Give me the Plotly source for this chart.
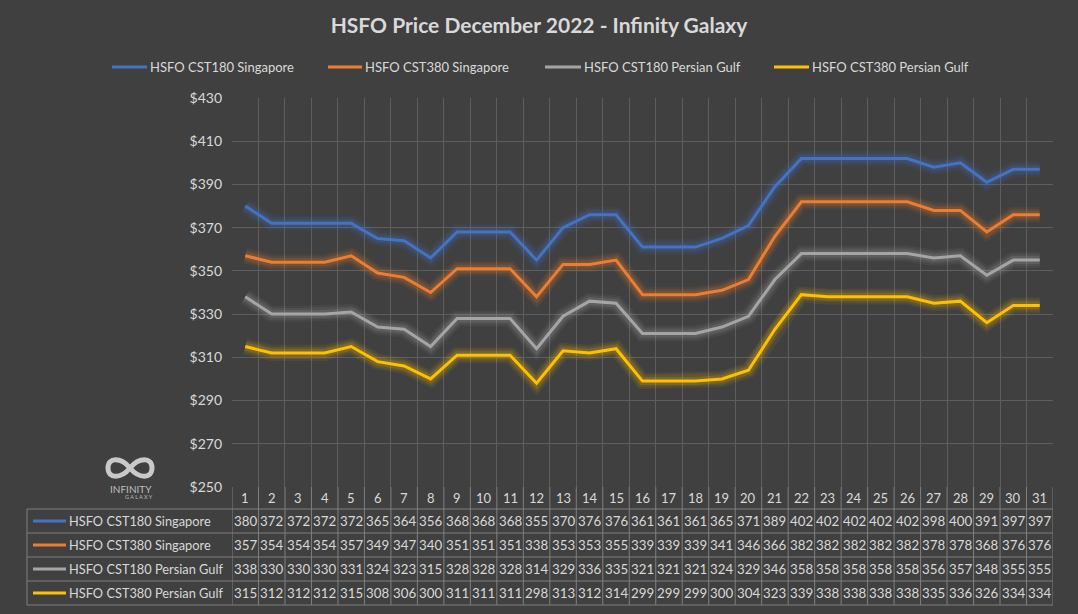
import plotly.graph_objects as go

# ---------------- data ----------------
days = list(range(1, 32))
series_names = ["HSFO CST180 Singapore", "HSFO CST380 Singapore",
                "HSFO CST180 Persian Gulf", "HSFO CST380 Persian Gulf"]
cst180_sg = [380, 372, 372, 372, 372, 365, 364, 356, 368, 368, 368, 355, 370, 376, 376, 361,
             361, 361, 365, 371, 389, 402, 402, 402, 402, 402, 398, 400, 391, 397, 397]
cst380_sg = [357, 354, 354, 354, 357, 349, 347, 340, 351, 351, 351, 338, 353, 353, 355, 339,
             339, 339, 341, 346, 366, 382, 382, 382, 382, 382, 378, 378, 368, 376, 376]
cst180_pg = [338, 330, 330, 330, 331, 324, 323, 315, 328, 328, 328, 314, 329, 336, 335, 321,
             321, 321, 324, 329, 346, 358, 358, 358, 358, 358, 356, 357, 348, 355, 355]
cst380_pg = [315, 312, 312, 312, 315, 308, 306, 300, 311, 311, 311, 298, 313, 312, 314, 299,
             299, 299, 300, 304, 323, 339, 338, 338, 338, 338, 335, 336, 326, 334, 334]
y_ticks = [250, 270, 290, 310, 330, 350, 370, 390, 410, 430]
y_tick_labels = ["$" + str(v) for v in y_ticks]

colors = ["#4472c4", "#ed7d31", "#a5a5a5", "#ffc000"]
glow = ["68,114,196", "237,125,49", "165,165,165", "255,192,0"]
all_series = [cst180_sg, cst380_sg, cst180_pg, cst380_pg]

# ---------------- geometry helpers (layout only) ----------------
W, H = 1078, 614
PL, PR, PT, PB = 232, 1053, 98, 487


def px(x):
    return (x - PL) / (PR - PL)


def py(y):
    return (PB - y) / (PB - PT)


BG = "#404040"
TXT = "#d9d9d9"
GRID = "#5e5e5e"
TLINE = "#7f7f7f"
FONT = "Lato"

fig = go.Figure()

# glow layers
for vals, g in zip(all_series, glow):
    for wdt, op in [(16, 0.07), (12, 0.10), (8, 0.16)]:
        fig.add_trace(go.Scatter(x=days, y=vals, mode="lines", showlegend=False,
                                 hoverinfo="skip",
                                 line=dict(color=f"rgba({g},{op})", width=wdt)))
# main lines
for name, vals, c in zip(series_names, all_series, colors):
    fig.add_trace(go.Scatter(x=days, y=vals, mode="lines", name=name, showlegend=False,
                             line=dict(color=c, width=3)))

shapes = []
annotations = []


def label(x, y, text, size, xanchor="center", xref="paper", color=TXT):
    annotations.append(dict(x=x, y=y, xref=xref, yref="paper", xanchor=xanchor,
                            yanchor="middle", text=text, showarrow=False,
                            font=dict(family=FONT, size=size, color=color)))


# legend (drawn manually to match placement)
legend_line_x = [(112, 147), (328, 362), (545, 581), (774, 809)]
legend_y = 67
for (x0, x1), name, c in zip(legend_line_x, series_names, colors):
    shapes.append(dict(type="line", xref="paper", yref="paper",
                       x0=px(x0), x1=px(x1), y0=py(legend_y), y1=py(legend_y),
                       line=dict(color=c, width=3)))
    label(px(x1 + 1), py(legend_y), name, 13, xanchor="left")

# table rows (header + 4 series)
row_bounds = [509, 533, 557, 581, 605]
header_center = 498
row_centers = [521, 545, 569, 593]

for yb in row_bounds:
    shapes.append(dict(type="line", xref="paper", yref="paper",
                       x0=px(27), x1=1, y0=py(yb), y1=py(yb),
                       line=dict(color=TLINE, width=1)))
shapes.append(dict(type="line", xref="paper", yref="paper",
                   x0=px(27), x1=px(27), y0=py(509), y1=py(605),
                   line=dict(color=TLINE, width=1)))
for d in [days[0] - 0.5] + [d + 0.5 for d in days]:
    shapes.append(dict(type="line", xref="x", yref="paper",
                       x0=d, x1=d, y0=py(487), y1=py(605),
                       line=dict(color=TLINE, width=1)))

for d in days:
    label(d, py(header_center), str(d), 13, xref="x")

for rc, name, vals, c in zip(row_centers, series_names, all_series, colors):
    shapes.append(dict(type="line", xref="paper", yref="paper",
                       x0=px(33), x1=px(66), y0=py(rc), y1=py(rc),
                       line=dict(color=c, width=3)))
    label(px(67), py(rc), name, 12.8, xanchor="left")
    for d, v in zip(days, vals):
        label(d, py(rc), str(v), 13.3, xref="x")

# logo (Infinity Galaxy)
cx, cy, rx, lx, hh = 130, 468, 152, 108, 11
pts = lambda x, y: f"{px(x)},{py(y)}"
path = (f"M {pts(cx, cy)} C {pts(cx + 9, cy - hh)} {pts(rx, cy - hh)} {pts(rx, cy)} "
        f"C {pts(rx, cy + hh)} {pts(cx + 9, cy + hh)} {pts(cx, cy)} "
        f"C {pts(cx - 9, cy - hh)} {pts(lx, cy - hh)} {pts(lx, cy)} "
        f"C {pts(lx, cy + hh)} {pts(cx - 9, cy + hh)} {pts(cx, cy)}")
shapes.append(dict(type="path", xref="paper", yref="paper", path=path,
                   line=dict(color="#c9c9c9", width=5)))
label(px(131), py(489), "INFINITY", 10, color="#bdbdbd")
label(px(139), py(497), "G A L A X Y", 5.5, color="#bdbdbd")

fig.update_layout(
    width=W, height=H,
    paper_bgcolor=BG, plot_bgcolor=BG,
    margin=dict(l=PL, r=W - PR, t=PT, b=H - PB, autoexpand=False),
    title=dict(text="<b>HSFO Price December 2022 - Infinity Galaxy</b>",
               x=0.5, xref="container", xanchor="center",
               y=1 - 26 / H, yref="container", yanchor="middle",
               font=dict(family=FONT, size=21, color=TXT)),
    xaxis=dict(range=[days[0] - 0.5, days[-1] + 0.5], tick0=0.5, dtick=1,
               showticklabels=False, showgrid=True, gridcolor=GRID, gridwidth=1,
               zeroline=False, showline=False, ticks="", automargin=False),
    yaxis=dict(range=[y_ticks[0], y_ticks[-1]], tickmode="array", tickvals=y_ticks,
               ticktext=y_tick_labels,
               showgrid=True, gridcolor=GRID, gridwidth=1, zeroline=False,
               showline=False, ticks="", ticklabelstandoff=9, automargin=False,
               tickfont=dict(family=FONT, size=14, color=TXT)),
    shapes=shapes,
    annotations=annotations,
    hovermode=False,
    showlegend=False,
)

fig.write_html("out.html",
               config={"displayModeBar": False},
               post_script="document.body.style.margin='0';"
                           "document.body.style.background='#404040';"
                           "document.body.style.overflow='hidden';")
